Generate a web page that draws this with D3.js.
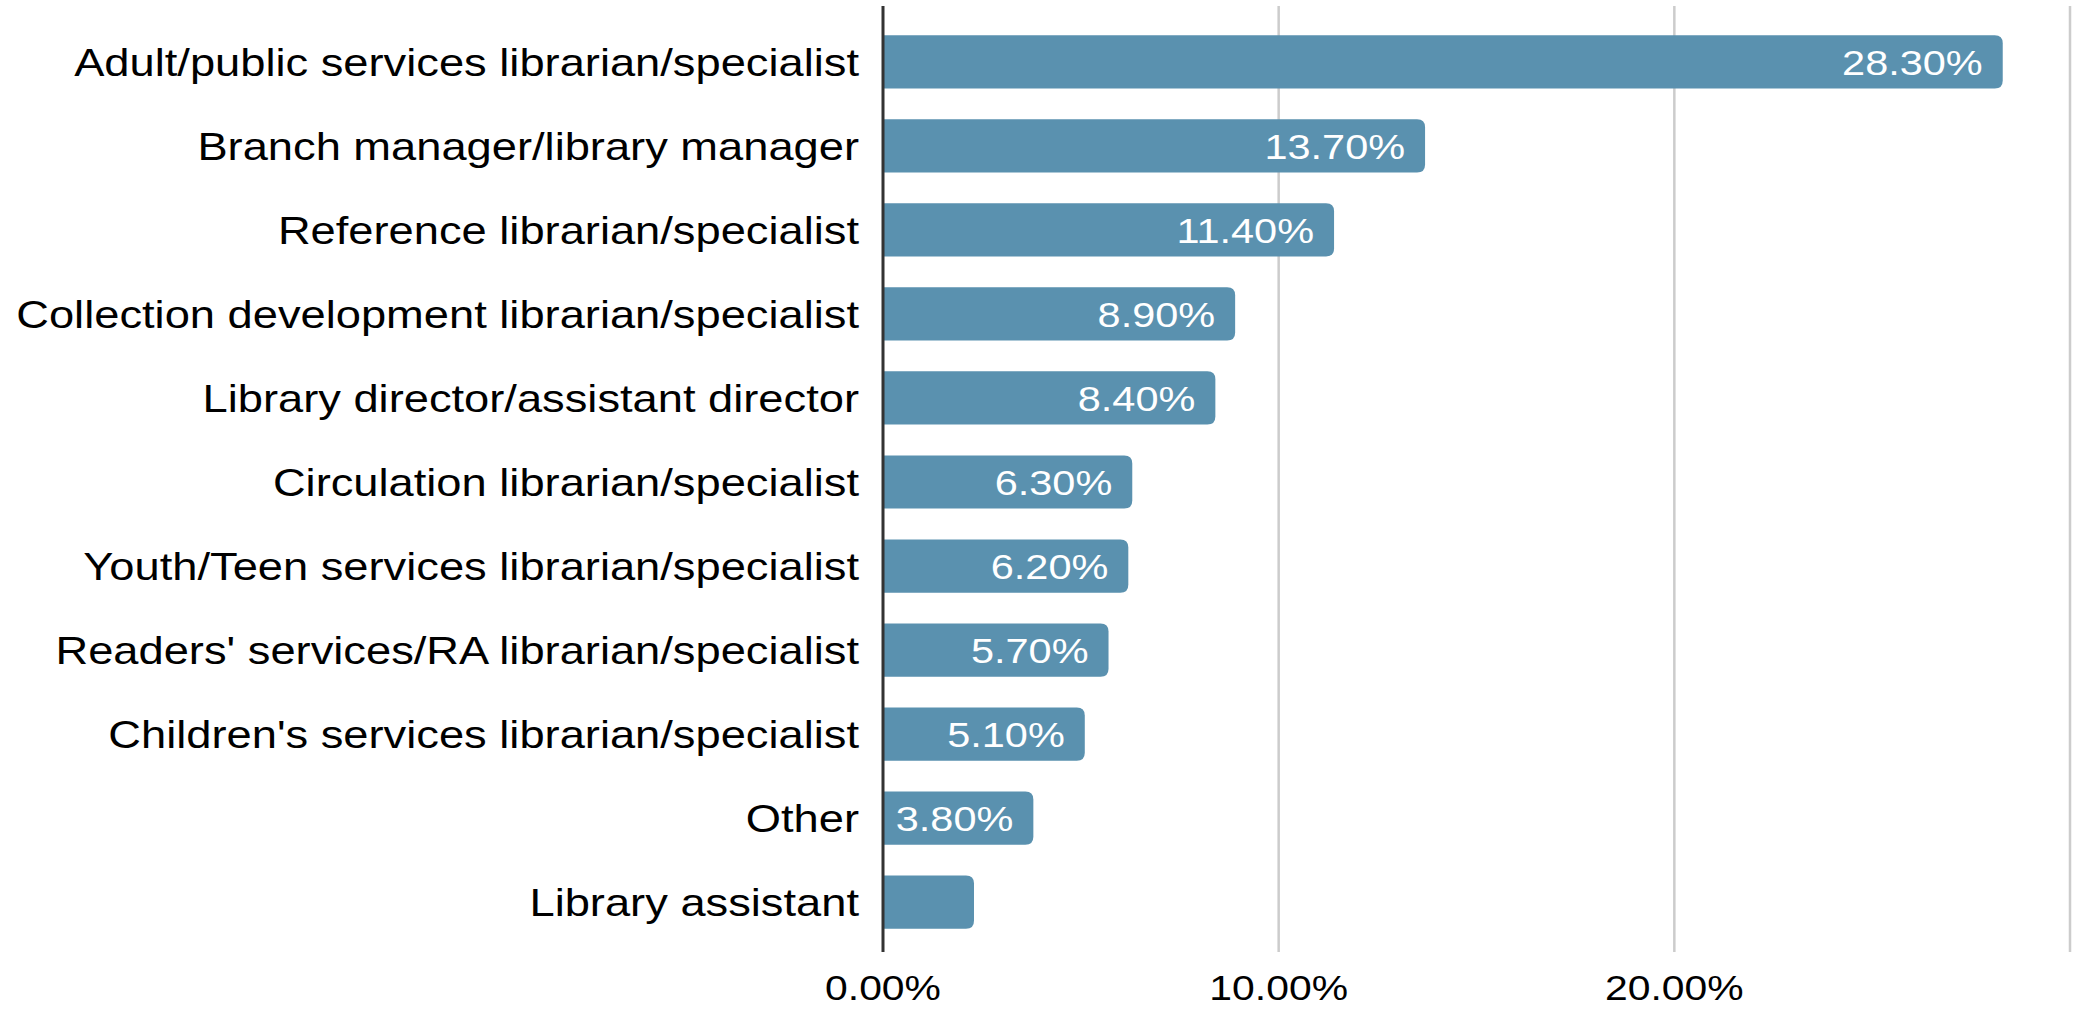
<!DOCTYPE html>
<html>
<head>
<meta charset="utf-8">
<script src="https://cdn.jsdelivr.net/npm/d3@7"></script>
<style>
  html, body { margin: 0; padding: 0; background: #fff; }
  svg { display: block; }
</style>
</head>
<body>
<div id="chart"></div>
<script>
// data
var categories = [
  "Adult/public services librarian/specialist",
  "Branch manager/library manager",
  "Reference librarian/specialist",
  "Collection development librarian/specialist",
  "Library director/assistant director",
  "Circulation librarian/specialist",
  "Youth/Teen services librarian/specialist",
  "Readers' services/RA librarian/specialist",
  "Children's services librarian/specialist",
  "Other",
  "Library assistant"
];
var values = [0.283, 0.137, 0.114, 0.089, 0.084, 0.063, 0.062, 0.057, 0.051, 0.038, 0.023];
var tickValues = [0, 0.1, 0.2];
var gridValues = [0.1, 0.2, 0.3];

var width = 2078, height = 1010;
var fontFamily = "'Liberation Sans', Arial, sans-serif";
var stretch = 1.185; // text in the picture is drawn wider than normal
var barColor = "#5a91af";

var svg = d3.select("#chart").append("svg")
  .attr("width", width)
  .attr("height", height);

var x = d3.scaleLinear().domain([0, 0.3]).range([883, 2070]);
var y = d3.scaleBand().domain(categories).range([10, 954])
  .paddingInner(0.367).paddingOuter(0.3);

var gridTop = 6, gridBottom = 952;

// gridlines
svg.append("g").selectAll("line")
  .data(gridValues)
  .join("line")
  .attr("x1", d => x(d)).attr("x2", d => x(d))
  .attr("y1", gridTop).attr("y2", gridBottom)
  .attr("stroke", "#cccccc")
  .attr("stroke-width", 2.5);

var rows = categories.map((c, i) => ({ cat: c, val: values[i] }));

// bars, rounded on the right end only
function barPath(d) {
  var x0 = x(0), x1 = x(d.val), y0 = y(d.cat), h = y.bandwidth();
  var r = Math.min(8, (x1 - x0) / 2);
  return "M" + x0 + "," + y0 +
    "H" + (x1 - r) +
    "Q" + x1 + "," + y0 + " " + x1 + "," + (y0 + r) +
    "V" + (y0 + h - r) +
    "Q" + x1 + "," + (y0 + h) + " " + (x1 - r) + "," + (y0 + h) +
    "H" + x0 + "Z";
}

svg.append("g").selectAll("path")
  .data(rows)
  .join("path")
  .attr("d", barPath)
  .attr("fill", barColor);

// axis line
svg.append("line")
  .attr("x1", x(0)).attr("x2", x(0))
  .attr("y1", gridTop).attr("y2", gridBottom)
  .attr("stroke", "#333")
  .attr("stroke-width", 3);

// category labels
svg.append("g").selectAll("text")
  .data(rows)
  .join("text")
  .attr("transform", d => "translate(" + (x(0) - 24) + "," + (y(d.cat) + y.bandwidth() / 2 + 1) + ") scale(" + stretch + ",1)")
  .attr("text-anchor", "end")
  .attr("dominant-baseline", "central")
  .attr("font-family", fontFamily)
  .attr("font-size", 38.2)
  .attr("fill", "#000")
  .text(d => d.cat);

// value labels inside bars
var fmt = d3.format(".2%");
var valueLabels = svg.append("g").selectAll("text")
  .data(rows)
  .join("text")
  .attr("transform", d => "translate(" + (x(d.val) - 20) + "," + (y(d.cat) + y.bandwidth() / 2 + 1) + ") scale(" + stretch + ",1)")
  .attr("text-anchor", "end")
  .attr("dominant-baseline", "central")
  .attr("font-family", fontFamily)
  .attr("font-size", 35)
  .attr("fill", "#fff")
  .text(d => fmt(d.val));

valueLabels.each(function (d) {
  var w = this.getComputedTextLength() * stretch;
  if (w + 30 > x(d.val) - x(0)) d3.select(this).remove();
});

// tick labels
svg.append("g").selectAll("text")
  .data(tickValues)
  .join("text")
  .attr("transform", d => "translate(" + x(d) + ",988) scale(" + stretch + ",1)")
  .attr("text-anchor", "middle")
  .attr("dominant-baseline", "central")
  .attr("font-family", fontFamily)
  .attr("font-size", 34.5)
  .attr("fill", "#000")
  .text(d => fmt(d));
</script>
</body>
</html>
